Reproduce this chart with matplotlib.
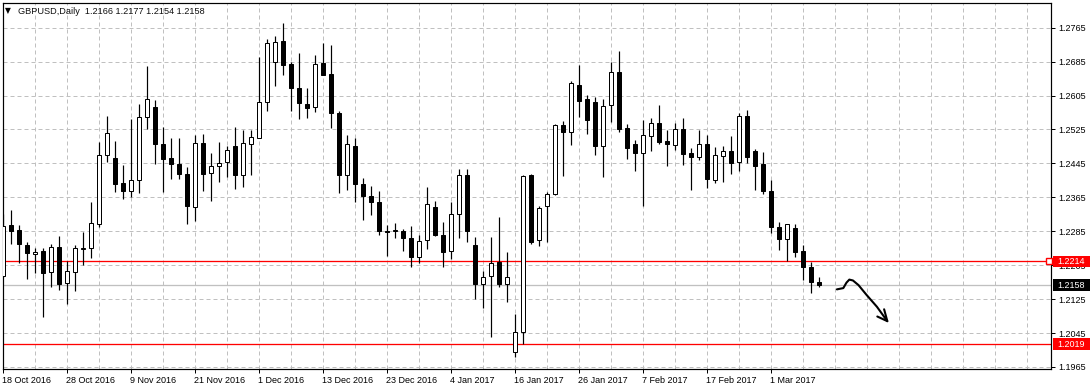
import matplotlib
matplotlib.use('Agg')
import matplotlib.pyplot as plt
import matplotlib.transforms as mtransforms
from matplotlib.patches import Rectangle

plt.rcParams['font.family'] = ['Liberation Sans', 'DejaVu Sans']

# GBPUSD daily candles, 18 Oct 2016 .. 9 Mar 2017
opens = [1.2180, 1.2299, 1.2288, 1.2252, 1.2231, 1.2238, 1.2188, 1.2249, 1.2164, 1.2188,
         1.2244, 1.2245, 1.2301, 1.2464, 1.2457, 1.2400, 1.2381, 1.2405, 1.2555, 1.2577,
         1.2490, 1.2458, 1.2444, 1.2420, 1.2343, 1.2492, 1.2422, 1.2438, 1.2449, 1.2486,
         1.2417, 1.2490, 1.2506, 1.2589, 1.2683, 1.2733, 1.2679, 1.2624, 1.2584, 1.2579,
         1.2682, 1.2657, 1.2565, 1.2417, 1.2486, 1.2396, 1.2367, 1.2354, 1.2286, 1.2286,
         1.2286, 1.2269, 1.2225, 1.2264, 1.2342, 1.2276, 1.2238, 1.2325, 1.2417, 1.2252,
         1.2160, 1.2179, 1.2213, 1.2160, 1.2000, 1.2047, 1.2418, 1.2264, 1.2344, 1.2374,
         1.2535, 1.2520, 1.2631, 1.2597, 1.2590, 1.2485, 1.2582, 1.2661, 1.2529, 1.2490,
         1.2470, 1.2510, 1.2540, 1.2498, 1.2488, 1.2526, 1.2469, 1.2459, 1.2491, 1.2407,
         1.2462, 1.2474, 1.2449, 1.2557, 1.2474, 1.2444, 1.2380, 1.2294, 1.2266, 1.2293,
         1.2238, 1.2201, 1.2166]
highs = [1.2325, 1.2335, 1.2299, 1.2260, 1.2245, 1.2246, 1.2254, 1.2274, 1.2214, 1.2253,
         1.2283, 1.2354, 1.2495, 1.2557, 1.2498, 1.2441, 1.2550, 1.2584, 1.2675, 1.2595,
         1.2531, 1.2505, 1.2505, 1.2436, 1.2512, 1.2514, 1.2469, 1.2496, 1.2486, 1.2531,
         1.2524, 1.2524, 1.2697, 1.2738, 1.2745, 1.2775, 1.2684, 1.2706, 1.2622, 1.2700,
         1.2728, 1.2725, 1.2569, 1.2511, 1.2505, 1.2411, 1.2392, 1.2379, 1.2300, 1.2304,
         1.2290, 1.2297, 1.2276, 1.2389, 1.2357, 1.2308, 1.2355, 1.2432, 1.2432, 1.2272,
         1.2191, 1.2272, 1.2319, 1.2235, 1.2089, 1.2418, 1.2419, 1.2345, 1.2378, 1.2538,
         1.2546, 1.2640, 1.2676, 1.2606, 1.2602, 1.2597, 1.2683, 1.2709, 1.2538, 1.2500,
         1.2547, 1.2551, 1.2583, 1.2524, 1.2540, 1.2551, 1.2482, 1.2524, 1.2512, 1.2484,
         1.2485, 1.2510, 1.2565, 1.2571, 1.2479, 1.2471, 1.2406, 1.2308, 1.2301, 1.2302,
         1.2253, 1.2213, 1.2177]
lows = [1.2178, 1.2254, 1.2209, 1.2172, 1.2186, 1.2082, 1.2154, 1.2146, 1.2113, 1.2143,
        1.2206, 1.2223, 1.2296, 1.2449, 1.2378, 1.2360, 1.2365, 1.2376, 1.2525, 1.2443,
        1.2378, 1.2409, 1.2409, 1.2301, 1.2310, 1.2381, 1.2357, 1.2402, 1.2414, 1.2385,
        1.2390, 1.2418, 1.2504, 1.2569, 1.2628, 1.2654, 1.2569, 1.2549, 1.2553, 1.2567,
        1.2653, 1.2529, 1.2376, 1.2382, 1.2354, 1.2312, 1.2324, 1.2277, 1.2227, 1.2268,
        1.2239, 1.2200, 1.2209, 1.2244, 1.2274, 1.2200, 1.2220, 1.2270, 1.2260, 1.2125,
        1.2105, 1.2036, 1.2153, 1.2119, 1.1988, 1.2018, 1.2254, 1.2251, 1.2260, 1.2371,
        1.2416, 1.2489, 1.2555, 1.2515, 1.2466, 1.2412, 1.2543, 1.2518, 1.2456, 1.2428,
        1.2345, 1.2474, 1.2490, 1.2440, 1.2477, 1.2442, 1.2382, 1.2453, 1.2387, 1.2400,
        1.2402, 1.2420, 1.2428, 1.2446, 1.2382, 1.2373, 1.2280, 1.2242, 1.2214, 1.2225,
        1.2170, 1.2139, 1.2154]
closes = [1.2298, 1.2285, 1.2254, 1.2233, 1.2237, 1.2187, 1.2249, 1.2161, 1.2192, 1.2245,
          1.2246, 1.2304, 1.2464, 1.2516, 1.2396, 1.2381, 1.2407, 1.2554, 1.2596, 1.2490,
          1.2456, 1.2443, 1.2419, 1.2345, 1.2492, 1.2421, 1.2439, 1.2447, 1.2476, 1.2417,
          1.2492, 1.2507, 1.2591, 1.2728, 1.2731, 1.2678, 1.2624, 1.2587, 1.2576, 1.2679,
          1.2654, 1.2565, 1.2418, 1.2490, 1.2396, 1.2367, 1.2355, 1.2285, 1.2283, 1.2288,
          1.2270, 1.2225, 1.2262, 1.2349, 1.2277, 1.2237, 1.2325, 1.2417, 1.2285, 1.2161,
          1.2177, 1.2209, 1.2160, 1.2177, 1.2047, 1.2415, 1.2260, 1.2341, 1.2374, 1.2535,
          1.2520, 1.2635, 1.2593, 1.2548, 1.2485, 1.2580, 1.2661, 1.2527, 1.2482, 1.2470,
          1.2512, 1.2540, 1.2496, 1.2490, 1.2525, 1.2468, 1.2461, 1.2490, 1.2409, 1.2464,
          1.2474, 1.2447, 1.2556, 1.2461, 1.2440, 1.2381, 1.2294, 1.2266, 1.2301, 1.2235,
          1.2200, 1.2166, 1.2158]

date_labels = ['18 Oct 2016', '28 Oct 2016', '9 Nov 2016', '21 Nov 2016', '1 Dec 2016',
               '13 Dec 2016', '23 Dec 2016', '4 Jan 2017', '16 Jan 2017', '26 Jan 2017',
               '7 Feb 2017', '17 Feb 2017', '1 Mar 2017']
price_ticks = [1.1965, 1.2045, 1.2125, 1.2205, 1.2285, 1.2365, 1.2445, 1.2525,
               1.2605, 1.2685, 1.2765]
red_levels = [1.2214, 1.2019]
bid = 1.2158
title = 'GBPUSD,Daily  1.2166 1.2177 1.2154 1.2158'

# hand drawn arrow (bar index, price)
arrow_x = [104.2, 105.0, 105.4, 105.75, 106.2, 106.9, 107.9, 109.2, 110.5]
arrow_y = [1.2148, 1.2151, 1.2164, 1.2171, 1.2169, 1.2158, 1.2135, 1.2107, 1.2073]
head_x = [109.25, 110.5, 110.1]
head_y = [1.2084, 1.2073, 1.2101]

W, H = 1091, 390
fig = plt.figure(figsize=(W / 100, H / 100), dpi=100)
ax = fig.add_axes([2.7 / W, (H - 369.3) / H, (1051 - 2.7) / W, (369.3 - 2.7) / H])
ax.set_xlim(-0.075, 130.96)
ax.set_ylim(1.19595, 1.2824)

px = 0.72  # one pixel in points
grid_kw = dict(color='#c0c0c0', lw=px, dashes=(4, 3), zorder=0)
for i in range(4, 131, 4):
    ax.axvline(i, **grid_kw)
for p in price_ticks:
    ax.axhline(p, **grid_kw)

ax.axhline(bid, color='#c0c0c0', lw=px * 1.3, zorder=1)
for lv in red_levels:
    ax.axhline(lv, color='red', lw=px * 1.3, zorder=1)
ax.plot([130.7], [red_levels[0]], marker='s', ms=4, mfc='white', mec='red', mew=1,
        clip_on=False, zorder=3)

x = list(range(len(opens)))
ax.vlines(x, lows, highs, color='black', lw=px * 1.2, zorder=2)
for i in x:
    o, c = opens[i], closes[i]
    fc = 'white' if c >= o else 'black'
    ax.bar(i, max(abs(c - o), 0.00005), bottom=min(o, c), width=0.5,
           color=fc, edgecolor='black', linewidth=px, zorder=3)

ax.plot(arrow_x, arrow_y, color='black', lw=1.5, solid_capstyle='round',
        solid_joinstyle='round', zorder=4)
ax.plot(head_x, head_y, color='black', lw=1.5, solid_capstyle='round',
        solid_joinstyle='round', zorder=4)

for s in ax.spines.values():
    s.set_linewidth(px * 1.2)
    s.set_color('black')

ax.yaxis.tick_right()
ax.set_yticks(price_ticks)
ax.set_yticklabels(['%.4f' % p for p in price_ticks], fontsize=6.5)
ax.tick_params(axis='y', direction='out', length=3, width=px, pad=2.5)
ax.set_xticks([k * 8 for k in range(len(date_labels))])
ax.set_xticklabels(date_labels, fontsize=6.5, ha='left')
ax.tick_params(axis='x', direction='out', length=3, width=px, pad=1.5)
for lab in ax.get_xticklabels():
    lab.set_x(0)

# moving the date labels a bit right so they start at their tick
off = mtransforms.ScaledTranslation(-1 / 100, 0, fig.dpi_scale_trans)
for lab in ax.get_xticklabels():
    lab.set_transform(lab.get_transform() + off)

# price boxes on the right axis
bt = mtransforms.blended_transform_factory(fig.transFigure, ax.transData)
box_h = 11.5 * 0.0002358
for p, fc in [(red_levels[0], 'red'), (bid, 'black'), (red_levels[1], 'red')]:
    fig.add_artist(Rectangle((1053 / W, p - box_h / 2), 37 / W, box_h, transform=bt,
                             facecolor=fc, edgecolor='none', zorder=5))
    fig.text(1057.5 / W, p, '%.4f' % p, transform=bt, color='white', fontsize=6.5,
             va='center', ha='left', zorder=6)

fig.text(5 / W, (H - 10.5) / H, '\u25bc', fontsize=5.5, va='center', ha='left',
         family=['DejaVu Sans'])
fig.text(18 / W, (H - 11) / H, title, fontsize=6.6, va='center', ha='left',
         color='#101010')

fig.savefig('out.png', dpi=100, facecolor='white')
